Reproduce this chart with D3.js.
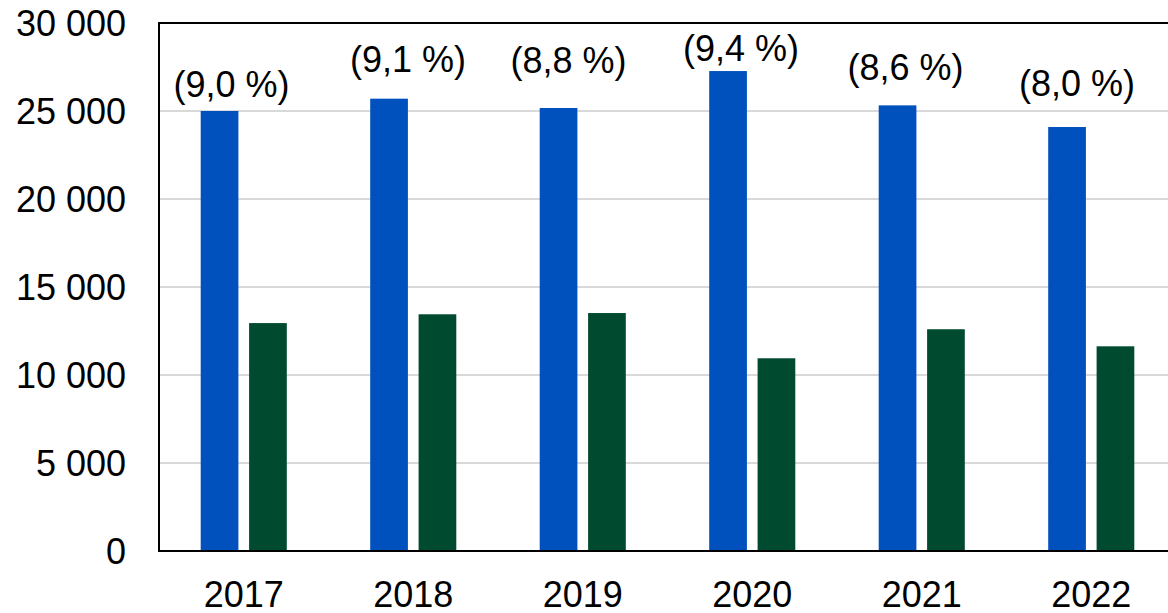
<!DOCTYPE html>
<html>
<head>
<meta charset="utf-8">
<script src="https://cdn.jsdelivr.net/npm/d3@7"></script>
<style>
  body { margin: 0; background: #fff; }
  svg text { font-family: "Liberation Sans", Arial, sans-serif; fill: #000; }
</style>
</head>
<body>
<div id="chart"></div>
<script>
// Chart data
let years = ["2017", "2018", "2019", "2020", "2021", "2022"];
let seriesA = [25000, 25700, 25170, 27270, 25320, 24090];
let seriesB = [12950, 13450, 13520, 10950, 12600, 11630];
let shareLabels = ["(9,0 %)", "(9,1 %)", "(8,8 %)", "(9,4 %)", "(8,6 %)", "(8,0 %)"];
let yTicks = [0, 5000, 10000, 15000, 20000, 25000, 30000];

// label placement tweaks (px, relative to top of blue bar)
let labelDx = [12, 19, 10, 13, 8, 10];
let labelDy = [-14, -27, -35, -10, -25, -31];

let drawChart = function(){
    let colors = ['#0050be', '#004b2f'];
    let width = 1168, height = 613;
    let left = 159, right = 1176, top = 23, bottom = 551;

    let svg = d3.select('#chart').append('svg')
        .attr('width', width)
        .attr('height', height);

    let xScale = d3.scaleBand()
        .domain(years)
        .range([left, right]);

    let inner = d3.scaleBand()
        .domain(['a', 'b'])
        .range([41.7, 127.8])
        .paddingInner(0.221);

    let yScale = d3.scaleLinear()
        .domain([0, 30000])
        .range([bottom, top]);

    // gridlines
    svg.append('g')
        .selectAll('line')
        .data(yTicks.filter(d => d > 0 && d < 30000))
        .enter().append('line')
        .attr('x1', left).attr('x2', right)
        .attr('y1', d => yScale(d)).attr('y2', d => yScale(d))
        .attr('stroke', '#d9d9d9')
        .attr('stroke-width', 2);

    // bars
    let groups = svg.selectAll('.year')
        .data(years)
        .enter().append('g')
        .attr('class', 'year')
        .attr('transform', d => 'translate(' + xScale(d) + ',0)');

    groups.append('rect')
        .attr('x', inner('a'))
        .attr('width', inner.bandwidth())
        .attr('y', (d, i) => yScale(seriesA[i]))
        .attr('height', (d, i) => yScale(0) - yScale(seriesA[i]))
        .attr('fill', colors[0]);

    groups.append('rect')
        .attr('x', inner('b'))
        .attr('width', inner.bandwidth())
        .attr('y', (d, i) => yScale(seriesB[i]))
        .attr('height', (d, i) => yScale(0) - yScale(seriesB[i]))
        .attr('fill', colors[1]);

    groups.append('text')
        .text((d, i) => shareLabels[i])
        .attr('x', (d, i) => inner('a') + inner.bandwidth() / 2 + labelDx[i])
        .attr('y', (d, i) => yScale(seriesA[i]) + labelDy[i])
        .attr('text-anchor', 'middle')
        .attr('font-size', '36px');

    // frame
    svg.append('rect')
        .attr('x', left).attr('y', top)
        .attr('width', right - left).attr('height', bottom - top)
        .attr('fill', 'none')
        .attr('stroke', '#000')
        .attr('stroke-width', 2);

    // y axis
    let yAxis = d3.axisLeft(yScale)
        .tickValues(yTicks)
        .tickSize(0)
        .tickPadding(33)
        .tickFormat(d => d3.format(',')(d).replace(/,/g, ' '));

    svg.append('g')
        .attr('transform', 'translate(' + left + ',0)')
        .call(yAxis)
        .call(g => g.select('.domain').remove())
        .selectAll('text')
        .attr('font-size', '36px')
        .attr('dy', '0.36em');

    // x axis
    let xAxis = d3.axisBottom(xScale)
        .tickSize(0)
        .tickPadding(30);

    svg.append('g')
        .attr('transform', 'translate(0,' + bottom + ')')
        .call(xAxis)
        .call(g => g.select('.domain').remove())
        .selectAll('text')
        .attr('font-size', '36px')
        .attr('dy', '0.71em');
};

drawChart();
</script>
</body>
</html>
